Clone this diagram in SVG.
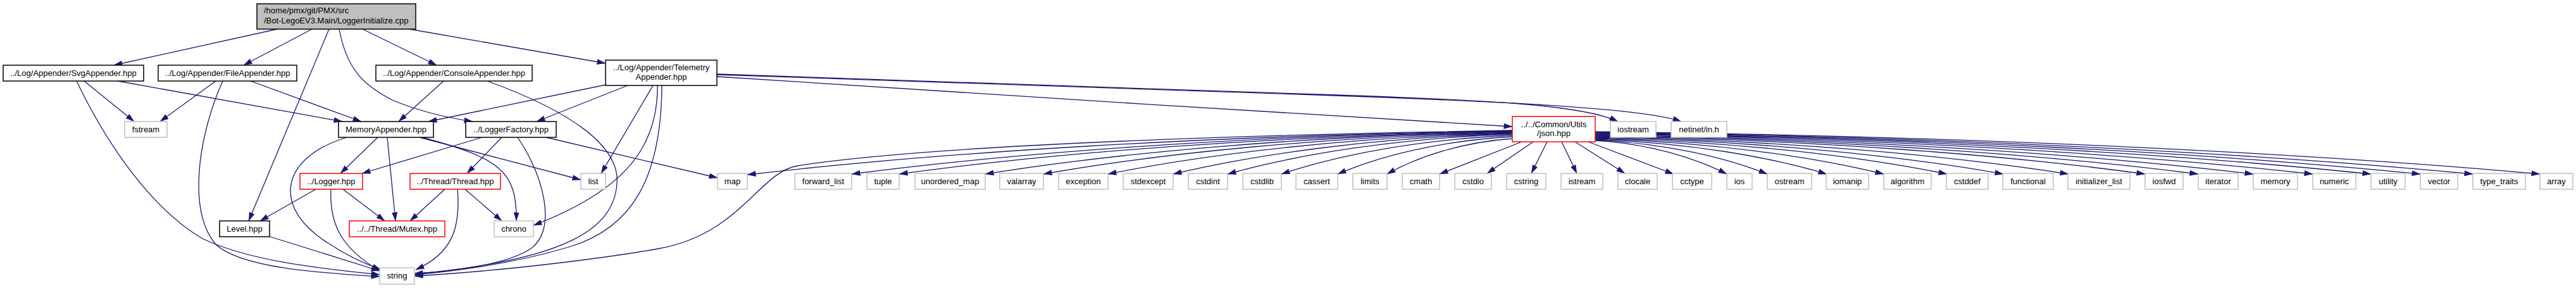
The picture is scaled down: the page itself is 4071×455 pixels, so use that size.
<svg xmlns="http://www.w3.org/2000/svg" width="4071" height="455" viewBox="0 0 4071 455">
<style>
rect{fill:#fff;stroke:#000;stroke-width:1.5}
.g rect{stroke:#bfbfbf}
.r rect{stroke:#ff0000}
.root rect{fill:#bfbfbf}
text{font-family:"Liberation Sans",Arial,Helvetica,sans-serif;font-size:13px;fill:#000;text-anchor:middle}
.root text{text-anchor:start}
#edges path{fill:none;stroke:#191970;stroke-width:1.3;marker-end:url(#a)}
</style>
<defs>
<marker id="a" viewBox="0 0 14 9" refX="13.5" refY="4.5" markerWidth="14" markerHeight="9" markerUnits="userSpaceOnUse" orient="auto"><path d="M0,0 L14,4.5 L0,9 z" fill="#191970"/></marker>
</defs>
<rect x="0" y="0" width="4071" height="455" style="fill:#fff;stroke:none"/>
<g id="edges">
<path d="M438,46 L180,103"/>
<path d="M493,46 L385,103"/>
<path d="M520,46 L393,349"/>
<path d="M536,46 C548,110 575,135 620,158 C660,175 700,185 747,192"/>
<path d="M573,46 L690,103"/>
<path d="M647,46 L957,100"/>
<path d="M133,128 L212,192"/>
<path d="M186,128 L541,192"/>
<path d="M121,128 C170,230 240,330 320,377 C400,415 520,425 600,434"/>
<path d="M341,128 L253,192"/>
<path d="M396,128 L571,192"/>
<path d="M352,128 C315,210 295,330 340,385 C380,425 520,432 600,437"/>
<path d="M701,128 L630,192"/>
<path d="M770,128 C900,175 980,230 975,290 C970,360 900,410 655,433"/>
<path d="M957,134 L677,192"/>
<path d="M992,135 L848,192"/>
<path d="M1032,135 L950,274"/>
<path d="M1039,135 C1040,230 990,300 843,356"/>
<path d="M1046,135 C1045,280 1000,360 900,390 C800,420 700,430 655,434"/>
<path d="M1133,121 C1500,144 2000,178 2390,200"/>
<path d="M1133,117 L2080,149 C2350,158 2500,165 2557,192"/>
<path d="M1133,118 L2080,150 C2400,161 2600,172 2657,192"/>
<path d="M548,217 C440,250 430,330 520,385 C550,405 580,418 602,426"/>
<path d="M597,217 L538,274"/>
<path d="M612,217 L625,349"/>
<path d="M663,217 L918,284"/>
<path d="M667,217 C790,250 817,270 816,349"/>
<path d="M762,217 L572,274"/>
<path d="M793,217 L738,274"/>
<path d="M818,217 C860,280 880,360 840,392 C800,420 700,430 655,432"/>
<path d="M863,217 L1134,281"/>
<path d="M499,299 L411,349"/>
<path d="M523,299 C520,360 545,395 600,428"/>
<path d="M542,299 L608,349"/>
<path d="M703,299 L648,349"/>
<path d="M723,299 C728,360 715,400 657,426"/>
<path d="M735,299 L793,349"/>
<path d="M427,374 L600,428"/>
<path d="M2390,206 C1900,214 1450,232 1260,262 C1200,272 1170,370 1040,393 C960,407 800,428 655,436"/>
<path d="M2390,207 C1906,214 1483,241 1181,276"/>
<path d="M2390,207 C1972,214 1607,241 1346,275"/>
<path d="M2390,208 C2002,215 1663,241.5 1421,275"/>
<path d="M2390,208 C2057,215 1765,241.5 1557,275"/>
<path d="M2390,209 C2094,216 1834,242 1649,275"/>
<path d="M2390,210 C2134,216.5 1911,242.5 1751,275"/>
<path d="M2390,211 C2176,217 1988,243 1854,275"/>
<path d="M2390,212 C2210,218 2052,243.5 1940,275"/>
<path d="M2390,214 C2244,220 2116,244.5 2025,275"/>
<path d="M2390,216 C2280,222 2183,245.5 2114,275"/>
<path d="M2390,219 C2311,224.6 2241.5,247 2192,275"/>
<path d="M2405,224 L2275,275"/>
<path d="M2423,224 L2350,274"/>
<path d="M2445,224 L2420,274"/>
<path d="M2468,224 L2492,274"/>
<path d="M2489,224 L2568,274"/>
<path d="M2510,224 L2645,275"/>
<path d="M2521,222 C2604,227 2677,248.5 2729,275"/>
<path d="M2521,221 C2630,226.4 2725,248 2793,275"/>
<path d="M2521,220 C2667,225.5 2795.5,247.5 2887,275"/>
<path d="M2521,219 C2703,224.6 2863,247 2977,275"/>
<path d="M2521,218 C2743,223.7 2938,246.5 3077,275"/>
<path d="M2521,217 C2779,222.8 3005,246 3166,275"/>
<path d="M2521,216 C2820,222 3082,245.5 3269,275"/>
<path d="M2521,215 C2869,221 3173,245 3390,275"/>
<path d="M2521,214 C2902,220 3236,244.5 3474,275"/>
<path d="M2521,213 C2937,219 3301,244 3561,275"/>
<path d="M2521,212 C2975,218 3371.5,243.5 3655,275"/>
<path d="M2521,211 C3011,217.5 3440.5,243 3747,275"/>
<path d="M2521,210 C3042.6,216.5 3499,242.5 3825,275"/>
<path d="M2521,209 C3076,215.6 3561,242 3908,275"/>
<path d="M2521,208 C3118,215 3641,241.5 4014,275"/>
</g>
<g id="root" class="root"><rect x="406" y="6" width="251" height="40"/><text x="417" y="21">/home/pmx/git/PMX/src</text><text x="417" y="37">/Bot-LegoEV3.Main/LoggerInitialize.cpp</text></g>
<g id="svgappender"><rect x="5" y="103" width="222" height="25"/><text x="116" y="120">../Log/Appender/SvgAppender.hpp</text></g>
<g id="fileappender"><rect x="250" y="103" width="219" height="25"/><text x="359.5" y="120">../Log/Appender/FileAppender.hpp</text></g>
<g id="consoleappender"><rect x="594" y="103" width="247" height="25"/><text x="717.5" y="120">../Log/Appender/ConsoleAppender.hpp</text></g>
<g id="telemetryappender"><rect x="957" y="95" width="176" height="40"/><text x="1045" y="111">../Log/Appender/Telemetry</text><text x="1045" y="126">Appender.hpp</text></g>
<g id="fstream" class="g"><rect x="197" y="192" width="67" height="25"/><text x="230.5" y="209">fstream</text></g>
<g id="memoryappender"><rect x="535" y="192" width="150" height="25"/><text x="610" y="209">MemoryAppender.hpp</text></g>
<g id="loggerfactory"><rect x="736" y="192" width="143" height="25"/><text x="807.5" y="209">../LoggerFactory.hpp</text></g>
<g id="json" class="r"><rect x="2390" y="184" width="131" height="40"/><text x="2455.5" y="201">../../Common/Utils</text><text x="2455.5" y="215">/json.hpp</text></g>
<g id="iostream" class="g"><rect x="2545" y="192" width="72" height="25"/><text x="2581" y="209">iostream</text></g>
<g id="netinet" class="g"><rect x="2641" y="192" width="88" height="25"/><text x="2685" y="209">netinet/in.h</text></g>
<g id="logger" class="r"><rect x="474" y="274" width="99" height="25"/><text x="523.5" y="291">../Logger.hpp</text></g>
<g id="thread" class="r"><rect x="648" y="274" width="143" height="25"/><text x="719.5" y="291">../Thread/Thread.hpp</text></g>
<g id="list" class="g"><rect x="918" y="274" width="39" height="25"/><text x="937.5" y="291">list</text></g>
<g id="map" class="g"><rect x="1134" y="274" width="47" height="25"/><text x="1157.5" y="291">map</text></g>
<g id="forward_list" class="g"><rect x="1256" y="274" width="90" height="25"/><text x="1301" y="291">forward_list</text></g>
<g id="tuple" class="g"><rect x="1370" y="274" width="51" height="25"/><text x="1395.5" y="291">tuple</text></g>
<g id="unordered_map" class="g"><rect x="1446" y="274" width="111" height="25"/><text x="1501.5" y="291">unordered_map</text></g>
<g id="valarray" class="g"><rect x="1580" y="274" width="69" height="25"/><text x="1614.5" y="291">valarray</text></g>
<g id="exception" class="g"><rect x="1673" y="274" width="78" height="25"/><text x="1712" y="291">exception</text></g>
<g id="stdexcept" class="g"><rect x="1775" y="274" width="79" height="25"/><text x="1814.5" y="291">stdexcept</text></g>
<g id="cstdint" class="g"><rect x="1878" y="274" width="62" height="25"/><text x="1909" y="291">cstdint</text></g>
<g id="cstdlib" class="g"><rect x="1964" y="274" width="61" height="25"/><text x="1994.5" y="291">cstdlib</text></g>
<g id="cassert" class="g"><rect x="2048" y="274" width="66" height="25"/><text x="2081" y="291">cassert</text></g>
<g id="limits" class="g"><rect x="2138" y="274" width="54" height="25"/><text x="2165" y="291">limits</text></g>
<g id="cmath" class="g"><rect x="2216" y="274" width="59" height="25"/><text x="2245.5" y="291">cmath</text></g>
<g id="cstdio" class="g"><rect x="2299" y="274" width="58" height="25"/><text x="2328" y="291">cstdio</text></g>
<g id="cstring" class="g"><rect x="2381" y="274" width="62" height="25"/><text x="2412" y="291">cstring</text></g>
<g id="istream" class="g"><rect x="2467" y="274" width="66" height="25"/><text x="2500" y="291">istream</text></g>
<g id="clocale" class="g"><rect x="2557" y="274" width="62" height="25"/><text x="2588" y="291">clocale</text></g>
<g id="cctype" class="g"><rect x="2643" y="274" width="62" height="25"/><text x="2674" y="291">cctype</text></g>
<g id="ios" class="g"><rect x="2729" y="274" width="40" height="25"/><text x="2749" y="291">ios</text></g>
<g id="ostream" class="g"><rect x="2793" y="274" width="70" height="25"/><text x="2828" y="291">ostream</text></g>
<g id="iomanip" class="g"><rect x="2886" y="274" width="67" height="25"/><text x="2919.5" y="291">iomanip</text></g>
<g id="algorithm" class="g"><rect x="2977" y="274" width="75" height="25"/><text x="3014.5" y="291">algorithm</text></g>
<g id="cstddef" class="g"><rect x="3076" y="274" width="66" height="25"/><text x="3109" y="291">cstddef</text></g>
<g id="functional" class="g"><rect x="3165" y="274" width="80" height="25"/><text x="3205" y="291">functional</text></g>
<g id="initializer_list" class="g"><rect x="3268" y="274" width="98" height="25"/><text x="3317" y="291">initializer_list</text></g>
<g id="iosfwd" class="g"><rect x="3390" y="274" width="60" height="25"/><text x="3420" y="291">iosfwd</text></g>
<g id="iterator" class="g"><rect x="3474" y="274" width="63" height="25"/><text x="3505.5" y="291">iterator</text></g>
<g id="memory" class="g"><rect x="3561" y="274" width="70" height="25"/><text x="3596" y="291">memory</text></g>
<g id="numeric" class="g"><rect x="3655" y="274" width="68" height="25"/><text x="3689" y="291">numeric</text></g>
<g id="utility" class="g"><rect x="3747" y="274" width="54" height="25"/><text x="3774" y="291">utility</text></g>
<g id="vector" class="g"><rect x="3825" y="274" width="59" height="25"/><text x="3854.5" y="291">vector</text></g>
<g id="type_traits" class="g"><rect x="3908" y="274" width="83" height="25"/><text x="3949.5" y="291">type_traits</text></g>
<g id="array" class="g"><rect x="4014" y="274" width="52" height="25"/><text x="4040" y="291">array</text></g>
<g id="level"><rect x="347" y="349" width="79" height="25"/><text x="386.5" y="366">Level.hpp</text></g>
<g id="mutex" class="r"><rect x="552" y="349" width="151" height="25"/><text x="627.5" y="366">../../Thread/Mutex.hpp</text></g>
<g id="chrono" class="g"><rect x="781" y="349" width="62" height="25"/><text x="812" y="366">chrono</text></g>
<g id="string" class="g"><rect x="600" y="423" width="55" height="26"/><text x="627.5" y="440">string</text></g>
</svg>
